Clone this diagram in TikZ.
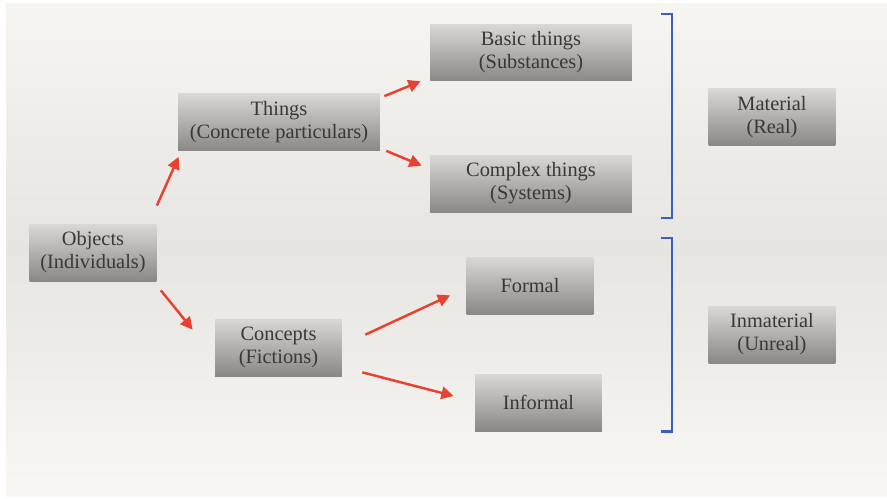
\documentclass[tikz,border=0pt]{standalone}
\usepackage{fontspec}
\setmainfont{Liberation Serif}
\usepackage{tikz}
\usetikzlibrary{arrows.meta,calc,positioning}

\definecolor{boxtop}{HTML}{DAD8D4}
\definecolor{boxbot}{HTML}{8A8884}
\definecolor{boxtext}{HTML}{383838}
\definecolor{arrowred}{HTML}{E8412F}
\definecolor{bracketblue}{HTML}{3A5EC2}
\definecolor{bgtop}{HTML}{F6F5F1}
\definecolor{bgmid}{HTML}{E6E5E2}
\definecolor{bgbot}{HTML}{F8F7F3}

\begin{document}
\begin{tikzpicture}[x=0.02cm,y=-0.02cm,
    box/.style={top color=boxtop, bottom color=boxbot, text=boxtext,
      align=center, inner sep=0pt, minimum height=1.14cm,
      font=\fontsize{11.6}{13.1}\selectfont},
    smallbox/.style={box, minimum width=2.54cm},
    widebox/.style={box, minimum width=4.04cm},
    link/.style={draw=arrowred, line width=1.4pt,
      -{Triangle[length=7pt,width=7pt]}},
    bracket/.style={draw=bracketblue, line width=1.7pt}]
    \useasboundingbox (0,0) rectangle (887,498);
    \shade[top color=bgtop, bottom color=bgbot, middle color=bgmid]
      (6,3) rectangle (887,496);

    \node[smallbox] (objects) at (93,252.5) {Objects\\(Individuals)};
    \node[widebox] (things) at (279,122) {Things\\(Concrete particulars)};
    \node[widebox] (basic) at (531,52.5) {Basic things\\(Substances)};
    \node[widebox] (complex) at (531,183.5) {Complex things\\(Systems)};
    \node[smallbox] (concepts) at (278.5,347.5) {Concepts\\(Fictions)};
    \node[smallbox] (formal) at (530,285.5) {Formal};
    \node[smallbox] (informal) at (538.5,402.5) {Informal};
    \node[smallbox] (material) at (772,117) {Material\\(Real)};
    \node[smallbox] (inmaterial) at (772,334.5) {Inmaterial\\(Unreal)};

    \draw[link] ($(objects.north east)+(0,-18)$) -- ($(things.south west)+(1,6)$);
    \draw[link] ($(things.north east)+(4,3)$) -- ($(basic.south west)+(-9,0)$);
    \draw[link] ($(things.south east)+(6,0)$) -- ($(complex.north west)+(-8,11)$);
    \draw[link] ($(objects.south east)+(4,9)$) -- ($(concepts.north west)+(-22,11)$);
    \draw[link] ($(concepts.north east)+(23,16)$) -- ($(formal.south west)+(-16,-19)$);
    \draw[link] ($(concepts.south east)+(20,-4)$) -- ($(informal.west)+(-21,-6.5)$);

    % brackets
    \draw[bracket] (661,14) -- (672,14) -- (672,218) -- (661,218);
    \draw[bracket] (661,238) -- (672,238) -- (672,431) -- (661,431);
\end{tikzpicture}
\end{document}
